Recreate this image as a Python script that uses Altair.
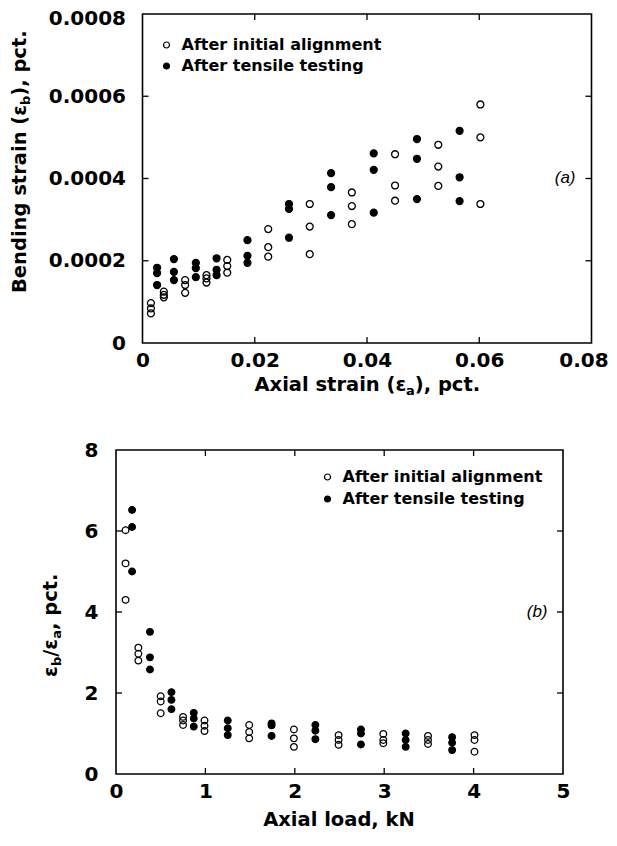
import altair as alt
import pandas as pd

SERIES = ["After initial alignment", "After tensile testing"]

# ---------------- Panel (a): bending strain vs axial strain ----------------
a_init_x = [0.0015, 0.0038, 0.0076, 0.0114, 0.0151, 0.0224, 0.0298, 0.0373, 0.0450, 0.0527, 0.0602]
a_init_y = [
    [0.000097, 0.000084, 0.000072],
    [0.000125, 0.000117, 0.000111],
    [0.000153, 0.000141, 0.000122],
    [0.000165, 0.000157, 0.000147],
    [0.000202, 0.000187, 0.000171],
    [0.000277, 0.000233, 0.000210],
    [0.000338, 0.000283, 0.000216],
    [0.000366, 0.000333, 0.000289],
    [0.000459, 0.000383, 0.000346],
    [0.000482, 0.000429, 0.000382],
    [0.000580, 0.000500, 0.000338],
]
a_tens_x = [0.0026, 0.0056, 0.0095, 0.0132, 0.0187, 0.0261, 0.0336, 0.0412, 0.0489, 0.0565]
a_tens_y = [
    [0.000183, 0.000170, 0.000141],
    [0.000204, 0.000173, 0.000153],
    [0.000195, 0.000182, 0.000160],
    [0.000206, 0.000178, 0.000165],
    [0.000250, 0.000212, 0.000195],
    [0.000338, 0.000326, 0.000256],
    [0.000413, 0.000379, 0.000311],
    [0.000461, 0.000421, 0.000317],
    [0.000496, 0.000448, 0.000350],
    [0.000516, 0.000403, 0.000345],
]
a_domain_x = [0, 0.08]
a_domain_y = [0, 0.0008]
a_label_x = [0, 0.02, 0.04, 0.06, 0.08]
a_label_y = [0, 0.0002, 0.0004, 0.0006, 0.0008]
a_tick_x = [0.02, 0.04, 0.06]
a_tick_y = [0.0002, 0.0004, 0.0006]

# ---------------- Panel (b): strain ratio vs axial load ----------------
b_init_x = [0.107, 0.25, 0.50, 0.75, 0.99, 1.49, 1.99, 2.49, 2.99, 3.49, 4.01]
b_init_y = [
    [6.02, 5.20, 4.30],
    [3.12, 2.97, 2.80],
    [1.92, 1.79, 1.50],
    [1.41, 1.32, 1.21],
    [1.32, 1.19, 1.06],
    [1.21, 1.04, 0.88],
    [1.10, 0.88, 0.67],
    [0.96, 0.84, 0.72],
    [0.99, 0.84, 0.76],
    [0.94, 0.84, 0.74],
    [0.96, 0.84, 0.55],
]
b_tens_x = [0.18, 0.38, 0.62, 0.87, 1.25, 1.74, 2.23, 2.74, 3.24, 3.76]
b_tens_y = [
    [6.52, 6.10, 5.00],
    [3.51, 2.88, 2.58],
    [2.02, 1.83, 1.60],
    [1.51, 1.37, 1.17],
    [1.32, 1.13, 0.96],
    [1.25, 1.20, 0.94],
    [1.21, 1.07, 0.86],
    [1.10, 1.00, 0.73],
    [1.00, 0.84, 0.67],
    [0.91, 0.77, 0.59],
]
b_domain_x = [0, 5]
b_domain_y = [0, 8]
b_label_x = [0, 1, 2, 3, 4, 5]
b_label_y = [0, 2, 4, 6, 8]
b_tick_x = [1, 2, 3, 4]
b_tick_y = [2, 4, 6]


def to_frame(init_x, init_y, tens_x, tens_y):
    rows = []
    for xv, ys in zip(init_x, init_y):
        for yv in ys:
            rows.append({"x": xv, "y": yv, "series": SERIES[0]})
    for xv, ys in zip(tens_x, tens_y):
        for yv in ys:
            rows.append({"x": xv, "y": yv, "series": SERIES[1]})
    return pd.DataFrame(rows)


df_a = to_frame(a_init_x, a_init_y, a_tens_x, a_tens_y)
df_b = to_frame(b_init_x, b_init_y, b_tens_x, b_tens_y)

FONT = "DejaVu Sans"
TITLE_SIZE = 19.5
SUB_SIZE = 13
dummy = pd.DataFrame({"d": [0]})


def txt(text, x, y, size=TITLE_SIZE, angle=0, align="left", baseline="alphabetic",
        weight="bold", style="normal", font=FONT, opacity=1):
    return alt.Chart(dummy).mark_text(
        text=text, font=font, fontSize=size, fontWeight=weight, fontStyle=style,
        angle=angle, align=align, baseline=baseline, color="black", opacity=opacity,
    ).encode(x=alt.value(x), y=alt.value(y))


def legend(lx, ly, row_pad):
    return alt.Legend(
        title=None, orient="none", legendX=lx, legendY=ly, direction="vertical",
        labelFont=FONT, labelFontWeight="bold", labelFontSize=16, labelColor="black",
        labelLimit=400,
        symbolType="circle", symbolSize=36, symbolStrokeColor="black", symbolStrokeWidth=1.2,
        symbolOffset=0, labelOffset=7, padding=0, rowPadding=row_pad,
    )


def panel(df, xs, ys, xaxis, yaxis, leg, dom_x, dom_y, tick_x, tick_y, x0, W, H, pt_size):
    """x0: left pixel of the plot frame inside the group; W: right pixel of frame."""
    X = lambda f: alt.X(f, scale=xs, axis=xaxis)
    Y = lambda f: alt.Y(f, scale=ys, axis=yaxis)
    fill_scale = alt.Scale(domain=SERIES, range=["transparent", "black"])
    pts = alt.Chart(df).mark_point(
        filled=True, shape="circle", stroke="black", strokeWidth=1.3, opacity=1,
        fillOpacity=1, size=pt_size,
    ).encode(x=X("x:Q"), y=Y("y:Q"), fill=alt.Fill("series:N", scale=fill_scale, legend=leg))
    frame_df = pd.DataFrame({"x0": [dom_x[0]], "x1": [dom_x[1]], "y0": [dom_y[0]], "y1": [dom_y[1]]})
    frame = alt.Chart(frame_df).mark_rect(fill="transparent", stroke="black", strokeWidth=1.6).encode(
        x=X("x0:Q"), x2="x1:Q", y=Y("y0:Q"), y2="y1:Q")
    dx = pd.DataFrame({"t": tick_x})
    dy = pd.DataFrame({"t": tick_y})
    L = 6
    bx = alt.Chart(dx).mark_rule(color="black", strokeWidth=1.3)
    by = alt.Chart(dy).mark_rule(color="black", strokeWidth=1.3)
    ticks = [
        bx.encode(x=X("t:Q"), y=alt.value(H), y2=alt.value(H - L)),
        bx.encode(x=X("t:Q"), y=alt.value(0), y2=alt.value(L)),
        by.encode(y=Y("t:Q"), x=alt.value(x0), x2=alt.value(x0 + L)),
        by.encode(y=Y("t:Q"), x=alt.value(W), x2=alt.value(W - L)),
    ]
    return [pts, frame] + ticks


# ---------------- Top chart ----------------
OFF = 26.5            # top frame starts this far right of the shared left edge
W1, H1 = 449, 329
GW1 = OFF + W1
xs1 = alt.Scale(domain=a_domain_x, nice=False, zero=True, range=[OFF, GW1])
ys1 = alt.Scale(domain=a_domain_y, nice=False, zero=True)
xaxis1 = alt.Axis(values=a_label_x, title=None, labelPadding=7,
                  labelOffset={"condition": {"test": "datum.value >= 0.079", "value": -8}, "value": 0},
                  labelExpr="datum.value == 0 ? '0' : format(datum.value, '.2f')")
yaxis1 = alt.Axis(values=a_label_y, title=None, labelPadding=17, offset=-OFF,
                  labelOffset={"condition": {"test": "datum.value >= 0.00079", "value": 4}, "value": 0},
                  labelExpr="datum.value == 0 ? '0' : format(datum.value, '.4f')")

layers_a = panel(df_a, xs1, ys1, xaxis1, yaxis1, legend(OFF + 16, 23, 5),
                 a_domain_x, a_domain_y, a_tick_x, a_tick_y, OFF, GW1, H1, 48)

ax_top = []
yb = 279
ax_top.append(txt("Bending strain (\u03b5", OFF - 117, yb, angle=270))
yb -= 188
ax_top.append(txt("b", OFF - 113, yb, size=SUB_SIZE, angle=270))
yb -= 9.3
ax_top.append(txt("), pct.", OFF - 117, yb, angle=270))
xb = OFF + 112
ax_top.append(txt("Axial strain (\u03b5", xb, 377))
xb += 151.5
ax_top.append(txt("a", xb, 381, size=SUB_SIZE))
xb += 8.8
ax_top.append(txt("), pct.", xb, 377))
ax_top.append(txt("(a)", OFF + 433, 164, size=17, align="right", baseline="middle",
                  weight="normal", style="italic", font="Liberation Sans"))
ax_top.append(txt(".", -107.5, 0, baseline="top", opacity=0))

top = alt.layer(*layers_a, *ax_top).properties(width=GW1, height=H1)

# ---------------- Bottom chart ----------------
W2, H2 = 447, 324
xs2 = alt.Scale(domain=b_domain_x, nice=False, zero=True)
ys2 = alt.Scale(domain=b_domain_y, nice=False, zero=True)
xaxis2 = alt.Axis(values=b_label_x, title=None, labelPadding=7, format="d")
yaxis2 = alt.Axis(values=b_label_y, title=None, labelPadding=18, format="d")

layers_b = panel(df_b, xs2, ys2, xaxis2, yaxis2, legend(203.5, 19, 6),
                 b_domain_x, b_domain_y, b_tick_x, b_tick_y, 0, W2, H2, 44)

ax_bot = []
yb = 227
ax_bot.append(txt("\u03b5", -59.5, yb, angle=270))
yb -= 10.9
ax_bot.append(txt("b", -55.5, yb, size=SUB_SIZE, angle=270))
yb -= 9.3
ax_bot.append(txt("/\u03b5", -59.5, yb, angle=270))
yb -= 18
ax_bot.append(txt("a", -55.5, yb, size=SUB_SIZE, angle=270))
yb -= 8.8
ax_bot.append(txt(", pct.", -59.5, yb, angle=270))
ax_bot.append(txt("Axial load, kN", 223, 376, align="center"))
ax_bot.append(txt("(b)", 431.5, 162, size=17, align="right", baseline="middle",
                  weight="normal", style="italic", font="Liberation Sans"))
ax_bot.append(txt(".", -107.5, 0, baseline="top", opacity=0))

bottom = alt.layer(*layers_b, *ax_bot).properties(width=W2, height=H2)

chart = alt.vconcat(top, bottom, spacing=42).resolve_scale(
    fill="independent"
).resolve_legend(
    fill="independent"
).properties(
    padding={"left": 0, "top": 0, "right": 0, "bottom": 0}
).configure_view(
    stroke=None
).configure_axis(
    domain=False, ticks=False, grid=False,
    labelFont=FONT, labelFontSize=20, labelFontWeight="bold", labelColor="black",
    labelFlush=False, labelOverlap=False,
)

chart.save("out.html", embed_options={"renderer": "svg", "actions": False})
